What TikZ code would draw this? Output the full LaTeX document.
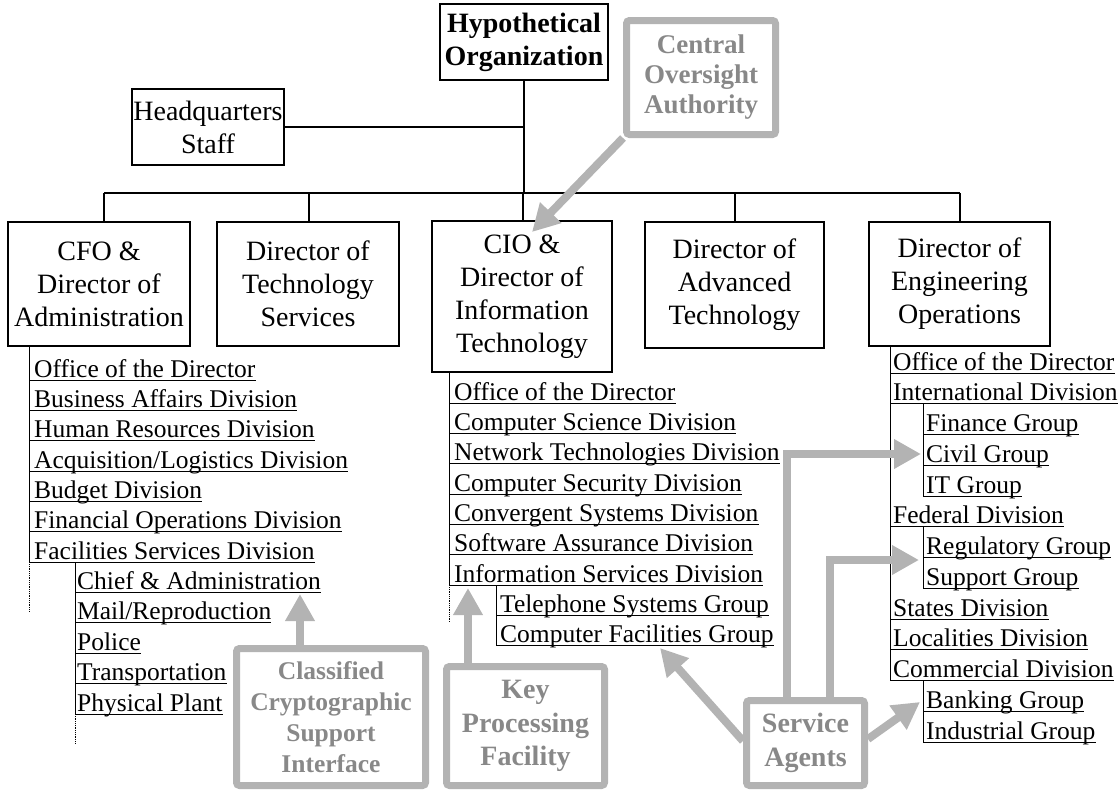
\documentclass[tikz,border=0pt]{standalone}
\usepackage{fontspec}
\setmainfont{Liberation Serif}
\usetikzlibrary{arrows.meta,calc}
\definecolor{cgray}{HTML}{B3B3B3}
\definecolor{tgray}{HTML}{888888}
\newcommand\litm[5]{%
  \node[litem] (#1) at (#3,#4-3) {#5};
  \draw[uline] (#2,#4) -- (#1.base east |- #2,#4);}
\begin{document}
\begin{tikzpicture}[x=1pt,y=-1pt,
  box/.style={draw=black,line width=1.2pt,align=center,inner sep=0pt,font=\fontsize{28}{33}\selectfont},
  gbox/.style={draw=cgray,line width=7pt,rounded corners=3pt,align=center,inner sep=0pt,text=tgray},
  tree/.style={line width=1.1pt},
  uline/.style={line width=1pt},
  dots/.style={line width=0.8pt,densely dotted},
  litem/.style={inner sep=0pt,anchor=base west,font=\fontsize{25.5}{30}\selectfont},
  garrow/.style={draw=cgray,line width=8pt,-{Triangle[length=27pt,width=28pt]}},
]
\useasboundingbox (0,0) rectangle (1119,790);

% ---- main boxes
\node[box,minimum width=168pt,minimum height=76pt] (hypo) at (524,42) {\bfseries Hypothetical\\\bfseries Organization};
\node[box,minimum width=152pt,minimum height=76pt] (hq) at (208,127) {Headquarters\\Staff};
\node[box,minimum width=182pt,minimum height=124pt] (cfo) at (99,284) {CFO \&\\Director of\\Administration};
\node[box,minimum width=182pt,minimum height=124pt] (tech) at (308,284) {Director of\\Technology\\Services};
\node[box,minimum width=180pt,minimum height=151pt] (cio) at (522,296.5) {CIO \&\\Director of\\Information\\Technology};
\node[box,minimum width=179pt,minimum height=126pt] (adv) at (734.5,285) {Director of\\Advanced\\Technology};
\node[box,minimum width=181pt,minimum height=124pt] (eng) at (959.5,284) {Director of\\Engineering\\Operations};

% ---- tree connectors
\coordinate (b1) at (104,193);
\coordinate (b2) at (309,193);
\coordinate (b3) at (523,193);
\coordinate (b4) at (735,193);
\coordinate (b5) at (960,193);
\draw[tree] (b1) -- (b5);
\draw[tree] (hypo.south) -- (hypo.south |- b1);
\draw[tree] (hq.east) -- (hq.east -| hypo.south);
\draw[tree] (b1) -- (b1 |- cfo.north);
\draw[tree] (b2) -- (b2 |- tech.north);
\draw[tree] (b3) -- (b3 |- cio.north);
\draw[tree] (b4) -- (b4 |- adv.north);
\draw[tree] (b5) -- (b5 |- eng.north);

% ---- CFO list
\draw[uline] (29,0 |- cfo.south) -- (29,562.2);
\draw[dots] (29,562.2) -- (29,612);
\draw[uline] (75,562.2) -- (75,714);
\draw[dots] (75,714) -- (75,744);
\litm{a1}{29}{34}{380}{Office of the Director\ }
\litm{a2}{29}{34}{410.4}{Business Affairs Division}
\litm{a3}{29}{34}{440.7}{Human Resources Division}
\litm{a4}{29}{34}{471.1}{Acquisition/Logistics Division}
\litm{a5}{29}{34}{501.4}{Budget Division}
\litm{a6}{29}{34}{531.8}{Financial Operations Division\ }
\litm{a7}{29}{34}{562.2}{Facilities Services Division}
\litm{a8}{75}{77}{592.5}{Chief \& Administration}
\litm{a9}{75}{77}{622.9}{Mail/Reproduction}
\litm{a10}{75}{77}{653.2}{Police}
\litm{a11}{75}{77}{683.6}{Transportation}
\litm{a12}{75}{77}{714}{Physical Plant}

% ---- CIO list
\draw[uline] (449,0 |- cio.south) -- (449,585.1);
\draw[dots] (449,585.1) -- (449,622);
\draw[uline] (496,585.1) -- (496,645.8);
\litm{c1}{449}{454}{403}{Office of the Director}
\litm{c2}{449}{454}{433.4}{Computer Science Division}
\litm{c3}{449}{454}{463.7}{Network Technologies Division}
\litm{c4}{449}{454}{494.1}{Computer Security Division}
\litm{c5}{449}{454}{524.4}{Convergent Systems Division}
\litm{c6}{449}{454}{554.8}{Software Assurance Division}
\litm{c7}{449}{454}{585.1}{Information Services Division}
\litm{c8}{496}{500}{615.5}{Telephone Systems Group}
\litm{c9}{496}{500}{645.8}{Computer Facilities Group}

% ---- Engineering list
\draw[uline] (890,0 |- eng.south) -- (890,680.5);
\draw[uline] (923,403.8) -- (923,496);
\draw[uline] (923,526.8) -- (923,588.3);
\draw[uline] (923,680.5) -- (923,742);
\litm{e1}{890}{893}{373}{Office of the Director}
\litm{e2}{890}{893}{403.8}{International Division}
\litm{e3}{923}{926}{434.5}{Finance Group}
\litm{e4}{923}{926}{465.3}{Civil Group}
\litm{e5}{923}{926}{496}{IT Group}
\litm{e6}{890}{893}{526.8}{Federal Division}
\litm{e7}{923}{926}{557.5}{Regulatory Group}
\litm{e8}{923}{926}{588.3}{Support Group}
\litm{e9}{890}{893}{619}{States Division}
\litm{e10}{890}{893}{649.8}{Localities Division}
\litm{e11}{890}{893}{680.5}{Commercial Division}
\litm{e12}{923}{926}{711.3}{Banking Group}
\litm{e13}{923}{926}{742}{Industrial Group}

% ---- gray boxes
\node[gbox,minimum width=149pt,minimum height=114pt,font=\bfseries\fontsize{27}{30}\selectfont] (coa) at (701,77.5) {Central\\Oversight\\Authority};
\node[gbox,minimum width=189pt,minimum height=137pt,font=\bfseries\fontsize{25.5}{31}\selectfont] (ccsi) at (331,717) {Classified\\Cryptographic\\Support\\Interface};
\node[gbox,minimum width=158pt,minimum height=119pt,font=\bfseries\fontsize{28}{33.5}\selectfont] (kpf) at (525.5,726) {Key\\Processing\\Facility};
\node[gbox,minimum width=118pt,minimum height=85pt,font=\bfseries\fontsize{28}{34}\selectfont] (sa) at (805.5,743) {Service\\Agents};

% ---- gray arrows
\coordinate (tCio) at (532,232);
\coordinate (tChief) at (300,594);
\coordinate (tInfo) at (468,588);
\coordinate (tCf) at (660,648);
\coordinate (tCivil) at (921,454);
\coordinate (tReg) at (919,560);
\coordinate (tBank) at (920,702);
\draw[garrow] (coa.south west) -- (tCio);
\draw[garrow] (ccsi.north -| tChief) -- (tChief);
\draw[garrow] (kpf.north -| tInfo) -- (tInfo);
\draw[garrow] (sa.west) ++(0,-2) -- (tCf);
\draw[garrow] (sa.north -| 787,0) |- (tCivil);
\draw[garrow] (sa.north -| 830,0) |- (tReg);
\draw[garrow] (sa.east) ++(0,-4) -- (tBank);
\end{tikzpicture}
\end{document}
